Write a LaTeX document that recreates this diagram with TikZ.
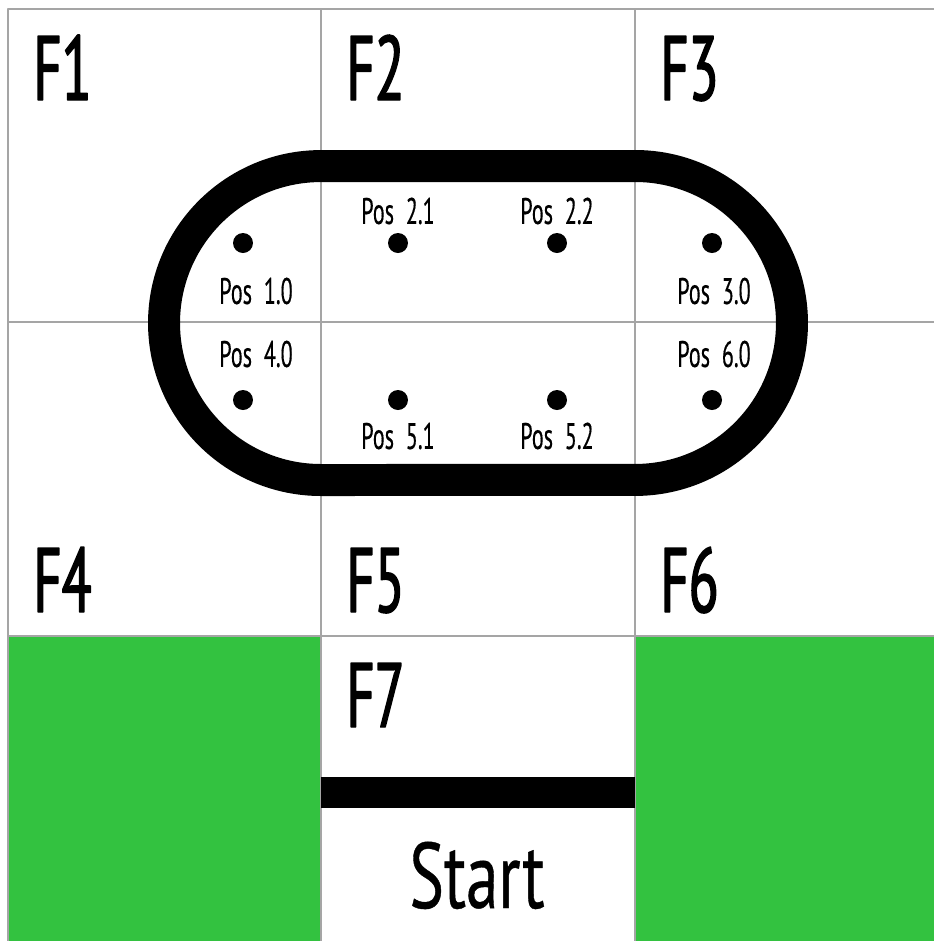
\documentclass[tikz,border=0pt]{standalone}
\usepackage{fontspec}
\newfontfamily\padfont{PT Sans}[FakeStretch=0.6, FakeBold=0.3]
\newfontfamily\fieldfont{PT Sans}[FakeStretch=0.6, FakeBold=1.6]
\newfontfamily\startfont{PT Sans}[FakeStretch=0.7, FakeBold=0.4]
\usetikzlibrary{calc}
\definecolor{padgreen}{RGB}{51,194,64}
\definecolor{gridgray}{RGB}{165,165,165}

\begin{document}
\begin{tikzpicture}[x=0.02cm, y=-0.02cm, line join=round,
    gridline/.style={draw=gridgray, line width=0.6pt},
    track/.style={line width=0.64cm},
    fieldlabel/.style={anchor=base west, inner sep=0pt, font=\fieldfont\fontsize{52}{52}\selectfont},
    poslabel/.style={inner sep=0pt, font=\padfont\fontsize{21}{21}\selectfont},
    posdot/.style={circle, fill=black, inner sep=0pt, minimum size=0.4cm}]
    \useasboundingbox (0,0) rectangle (934,941);
    \fill[white] (0,0) rectangle (934,941);

    \coordinate (TL) at (8,9);
    \coordinate (BR) at (934,941);

    % green corners
    \fill[padgreen] (8,636) rectangle (321,941);
    \fill[padgreen] (635,636) rectangle (934,941);

    % grid
    \draw[gridline] (8,941) -- (TL) -- (934,9);
    \draw[gridline] (321,9) -- (321,941);
    \draw[gridline] (635,9) -- (635,941);
    \draw[gridline] (8,322) -- (934,322);
    \draw[gridline] (8,636) -- (934,636);

    % track, arcs centred on the grid crossings
    \draw[track] (321,166) -- (635,166) arc[start angle=90, end angle=-90, radius=3.14cm]
        -- (321,480) arc[start angle=270, end angle=90, radius=3.14cm] -- cycle;
    \fill[black] (321,777) rectangle (635,808);

    % fields
    \node[fieldlabel] (f1) at (33,100) {F1};
    \node[fieldlabel] (f2) at (346,100) {F2};
    \node[fieldlabel] (f3) at (660,100) {F3};
    \node[fieldlabel] (f4) at (33,612) {F4};
    \node[fieldlabel] (f5) at (346,612) {F5};
    \node[fieldlabel] (f6) at (660,612) {F6};
    \node[fieldlabel] (f7) at (346,727) {F7};
    \node[fieldlabel, anchor=base, font=\startfont\fontsize{53}{53}\selectfont] (start) at (477,908) {Start};

    % positions
    \node[posdot] (p10) at (243,243) {};
    \node[posdot] (p21) at (398,243) {};
    \node[posdot] (p22) at (557,243) {};
    \node[posdot] (p30) at (712,243) {};
    \node[posdot] (p40) at (243,400) {};
    \node[posdot] (p51) at (398,400) {};
    \node[posdot] (p52) at (557,400) {};
    \node[posdot] (p60) at (712,400) {};

    \node[poslabel] (l10) at (256,291) {Pos\ \ 1.0};
    \node[poslabel] (l21) at (398,211) {Pos\ \ 2.1};
    \node[poslabel] (l22) at (557,211) {Pos\ \ 2.2};
    \node[poslabel] (l30) at (714,291) {Pos\ \ 3.0};
    \node[poslabel] (l40) at (256,354) {Pos\ \ 4.0};
    \node[poslabel] (l51) at (398,436) {Pos\ \ 5.1};
    \node[poslabel] (l52) at (557,436) {Pos\ \ 5.2};
    \node[poslabel] (l60) at (714,354) {Pos\ \ 6.0};
\end{tikzpicture}
\end{document}
